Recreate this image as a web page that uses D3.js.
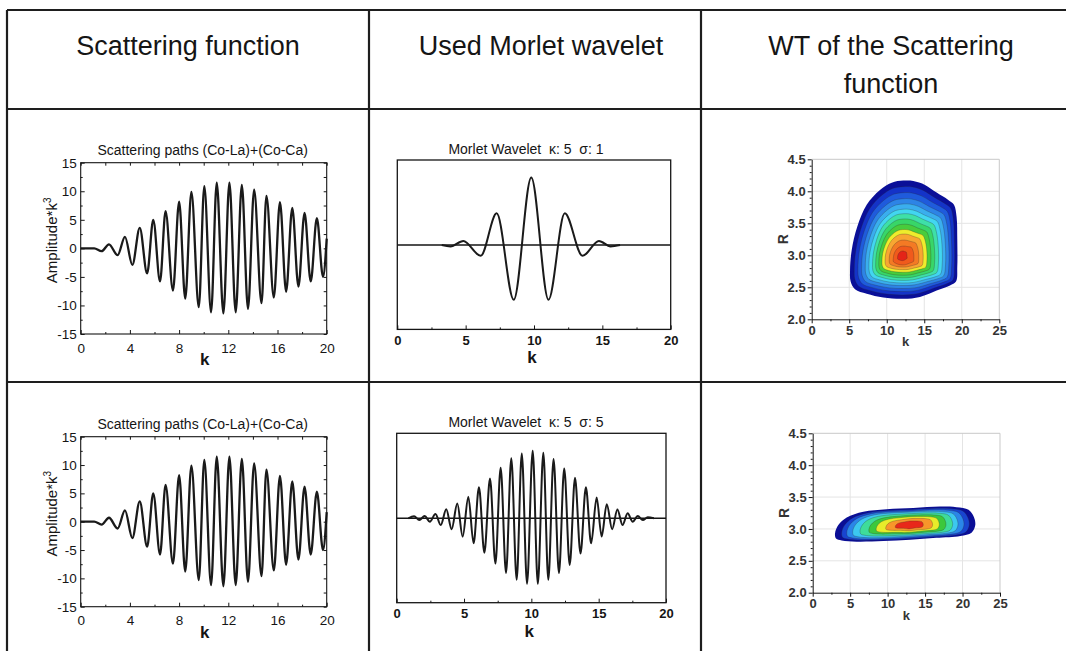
<!DOCTYPE html>
<html>
<head>
<meta charset="utf-8">
<script src="https://cdn.jsdelivr.net/npm/d3@7"></script>
<style>
  html, body { margin: 0; padding: 0; background: #fff; }
  svg { display: block; font-family: "Liberation Sans", Arial, sans-serif; }
</style>
</head>
<body>
<svg id="fig" width="1066" height="651"></svg>
<script>
// ---------- column headers ----------
const headerLines = [
  ["Scattering function"],
  ["Used Morlet wavelet"],
  ["WT of the Scattering", "function"]
];

// ---------- scattering function (Co-La)+(Co-Ca), turning points ----------
const scatK   = [0, 1.1, 1.7, 2.3, 3.0, 3.6, 4.2, 4.8, 5.4, 5.9, 6.45, 6.9, 7.5, 8.0, 8.5, 9.0, 9.6, 10.05, 10.6, 11.06, 11.6, 12.09, 12.6, 13.1, 13.6, 14.1, 14.7, 15.1, 15.7, 16.2, 16.7, 17.2, 17.7, 18.2, 18.7, 19.2, 19.7, 20.0];
const scatAmp = [0, 0, -0.5, 0.7, -1.2, 2.0, -2.9, 3.6, -4.4, 5.0, -5.8, 6.5, -7.4, 8.2, -8.8, 9.9, -10.3, 10.9, -11.2, 11.5, -11.4, 11.5, -11.2, 11.1, -10.6, 10.3, -9.6, 9.2, -8.6, 8.1, -7.6, 7.1, -6.7, 6.2, -5.8, 5.3, -5.0, 1.7];
const scatTitle = "Scattering paths (Co-La)+(Co-Ca)";
const scatXTicks = [0, 4, 8, 12, 16, 20];
const scatXMinor = [2, 6, 10, 14, 18];
const scatYTicks = [-15, -10, -5, 0, 5, 10, 15];
const scatYMinor = [-12.5, -7.5, -2.5, 2.5, 7.5, 12.5];

// ---------- Morlet wavelets, turning points ----------
const morlet1Title = "Morlet Wavelet  \u03ba: 5  \u03c3: 1";
const morlet1K   = [3.25, 3.9, 4.83, 6.1, 7.27, 8.52, 9.8, 11.06, 12.25, 13.55, 14.75, 15.6, 16.3];
const morlet1Amp = [0, -0.02, 0.06, -0.16, 0.47, -0.81, 1.0, -0.81, 0.47, -0.16, 0.06, -0.02, 0];

const morlet2Title = "Morlet Wavelet  \u03ba: 5  \u03c3: 5";
const morlet2K   = [0.87, 1.29, 1.68, 2.08, 2.46, 2.88, 3.27, 3.68, 4.08, 4.50, 4.90, 5.32, 5.71, 6.11, 6.51, 6.93, 7.33, 7.72, 8.12, 8.51, 8.91, 9.29, 9.68, 10.10, 10.48, 10.89, 11.26, 11.65, 12.05, 12.44, 12.85, 13.24, 13.65, 14.05, 14.44, 14.85, 15.22, 15.60, 16.00, 16.39, 16.77, 17.15, 17.53, 17.90, 18.28, 18.64, 19.1];
const morlet2Amp = [0, 0.03, -0.025, 0.034, -0.05, 0.064, -0.10, 0.133, -0.16, 0.22, -0.27, 0.32, -0.37, 0.46, -0.51, 0.59, -0.67, 0.75, -0.81, 0.89, -0.91, 0.96, -0.97, 1.0, -0.97, 0.97, -0.91, 0.88, -0.81, 0.74, -0.69, 0.60, -0.52, 0.46, -0.37, 0.31, -0.27, 0.21, -0.16, 0.13, -0.10, 0.074, -0.05, 0.034, -0.025, 0.015, 0];
const morletXTicks = [0, 5, 10, 15, 20];
const morletXMinor = [2.5, 7.5, 12.5, 17.5];

// ---------- wavelet transform maps ----------
const wtKTicks = [0, 5, 10, 15, 20, 25];
const wtKMinor = [2.5, 7.5, 12.5, 17.5, 22.5];
const wtRTicks = [2.0, 2.5, 3.0, 3.5, 4.0, 4.5];
const wtRMinor = d3.range(21, 45).filter(v => v % 5 !== 0).map(v => v / 10);

// sigma = 1: outer boundary, centre and level shrink factors (top/left/right/bottom)
const wt1OuterK = [12.21, 13.54, 15.10, 16.65, 18.2, 18.96, 19.31, 19.4, 19.4, 19.23, 18.43, 16.65, 14.43, 12.21, 9.55, 7.33, 5.77, 5.19, 5.11, 5.33, 6.08, 7.33, 9.10, 10.66];
const wt1OuterR = [4.167, 4.161, 4.10, 3.98, 3.865, 3.79, 3.60, 3.24, 2.82, 2.59, 2.53, 2.45, 2.35, 2.32, 2.34, 2.40, 2.47, 2.59, 2.77, 3.08, 3.45, 3.79, 4.02, 4.135];
const wt1Center = [12.08, 2.99];
const wt1Top    = [1, 0.92, 0.84, 0.76, 0.69, 0.62, 0.56, 0.49, 0.42, 0.35, 0.29, 0.21, 0.13, 0.065];
const wt1Left   = [1, 0.92, 0.85, 0.78, 0.71, 0.64, 0.57, 0.51, 0.45, 0.39, 0.33, 0.25, 0.17, 0.09];
const wt1Right  = [1, 0.95, 0.90, 0.85, 0.79, 0.73, 0.66, 0.59, 0.52, 0.45, 0.38, 0.30, 0.21, 0.085];
const wt1Bottom = [1, 0.91, 0.83, 0.76, 0.69, 0.63, 0.57, 0.51, 0.45, 0.38, 0.32, 0.26, 0.21, 0.11];
const wt1Colors = ["#0a0f98", "#1433c8", "#1f5bdc", "#2d84e6", "#3aaeee", "#42d6f0", "#3ee0a8", "#38d668", "#48cc3c", "#eeec2c", "#f8a632", "#f47a24", "#f05a1c", "#e42418"];

// sigma = 5
const wt2OuterK = [2.98, 3.42, 4.54, 6.76, 9.87, 13.43, 16.99, 19.2, 20.8, 21.5, 21.7, 21.2, 19.7, 16.5, 13.0, 9.43, 5.87, 3.87, 3.11];
const wt2OuterR = [2.93, 3.06, 3.18, 3.27, 3.31, 3.33, 3.35, 3.34, 3.30, 3.19, 3.06, 2.94, 2.89, 2.86, 2.83, 2.81, 2.80, 2.82, 2.85];
const wt2Center = [12.8, 3.06];
const wt2Top    = [1, 0.91, 0.82, 0.76, 0.67, 0.58, 0.49, 0.38, 0.24];
const wt2Left   = [1, 0.91, 0.84, 0.76, 0.66, 0.54, 0.44, 0.31, 0.18];
const wt2Right  = [1, 0.91, 0.83, 0.74, 0.66, 0.56, 0.46, 0.36, 0.22];
const wt2Bottom = [1, 0.91, 0.83, 0.74, 0.66, 0.57, 0.49, 0.38, 0.26];
const wt2Colors = ["#0a0e96", "#1844d0", "#2a86e8", "#3cc8f0", "#3edc9a", "#3cc83c", "#e8ec2a", "#f8962a", "#e8281a"];

// ======================================================================
const svg = d3.select("#fig");
const INK = "#151515";
const plain = d => String(d);   // hyphen-minus for negative tick labels

// ---------- table grid ----------
const table = svg.append("g").attr("stroke", "#1e1e1e").attr("stroke-width", 2.2);
[[7, 10, 1066, 10], [7, 109, 1066, 109], [7, 382, 1066, 382],
 [7, 10, 7, 651], [369, 10, 369, 651], [701, 10, 701, 651]]
  .forEach(([a, b, c, d]) => table.append("line").attr("x1", a).attr("y1", b).attr("x2", c).attr("y2", d));

const headerX = [188, 541, 891];
headerLines.forEach((lines, i) => {
  lines.forEach((t, j) => {
    svg.append("text")
      .attr("x", headerX[i]).attr("y", 55 + j * 38)
      .attr("text-anchor", "middle")
      .attr("font-size", 27).attr("fill", INK)
      .text(t);
  });
});

function styleAxis(sel, size, weight, color) {
  sel.selectAll("path.domain").attr("stroke", INK);
  sel.selectAll(".tick line").attr("stroke", INK);
  sel.selectAll("text").attr("font-size", size).attr("font-weight", weight)
     .attr("fill", color).attr("font-family", "Liberation Sans, Arial, sans-serif");
}

// ---------- scattering function panel ----------
function drawScatter(x0, x1, y0, y1, titleY) {
  const g = svg.append("g");
  const x = d3.scaleLinear().domain([0, 20]).range([x0, x1]);
  const y = d3.scaleLinear().domain([-15, 15]).range([y1, y0]);

  g.append("text").attr("x", (x0 + x1) / 2 - 1).attr("y", titleY)
    .attr("text-anchor", "middle").attr("font-size", 14).attr("fill", INK).text(scatTitle);

  const line = d3.line().x((d, i) => x(scatK[i])).y((d, i) => y(scatAmp[i])).curve(d3.curveMonotoneX);
  g.append("path").attr("d", line(scatK)).attr("fill", "none")
    .attr("stroke", "#1a1a1a").attr("stroke-width", 2.3).attr("stroke-linejoin", "round");

  g.append("rect").attr("x", x0).attr("y", y0).attr("width", x1 - x0).attr("height", y1 - y0)
    .attr("fill", "none").attr("stroke", INK).attr("stroke-width", 1.1);

  const bx = g.append("g").attr("transform", `translate(0,${y1})`)
    .call(d3.axisBottom(x).tickValues(scatXTicks).tickSizeInner(-4).tickSizeOuter(0).tickPadding(9).tickFormat(plain));
  styleAxis(bx, 13.5, "normal", INK);
  bx.select(".domain").remove();
  g.append("g").attr("transform", `translate(0,${y1})`)
    .call(d3.axisBottom(x).tickValues(scatXMinor).tickSizeInner(-2).tickSizeOuter(0).tickFormat(""))
    .call(s => { s.select(".domain").remove(); s.selectAll("line").attr("stroke", INK); });
  g.append("g").attr("transform", `translate(0,${y0})`)
    .call(d3.axisTop(x).tickValues(scatXTicks.concat(scatXMinor)).tickSizeInner(-3).tickSizeOuter(0).tickFormat(""))
    .call(s => { s.select(".domain").remove(); s.selectAll("line").attr("stroke", INK); });

  const ly = g.append("g").attr("transform", `translate(${x0},0)`)
    .call(d3.axisLeft(y).tickValues(scatYTicks).tickSizeInner(-4).tickSizeOuter(0).tickPadding(4).tickFormat(plain));
  styleAxis(ly, 13.5, "normal", INK);
  ly.select(".domain").remove();
  g.append("g").attr("transform", `translate(${x0},0)`)
    .call(d3.axisLeft(y).tickValues(scatYMinor).tickSizeInner(-2).tickSizeOuter(0).tickFormat(""))
    .call(s => { s.select(".domain").remove(); s.selectAll("line").attr("stroke", INK); });
  g.append("g").attr("transform", `translate(${x1},0)`)
    .call(d3.axisRight(y).tickValues(scatYTicks.concat(scatYMinor)).tickSizeInner(-3).tickSizeOuter(0).tickFormat(""))
    .call(s => { s.select(".domain").remove(); s.selectAll("line").attr("stroke", INK); });

  g.append("text").attr("x", (x0 + x1) / 2 + 1).attr("y", y1 + 31)
    .attr("text-anchor", "middle").attr("font-size", 17).attr("font-weight", "bold").attr("fill", INK).text("k");

  const yl = g.append("text")
    .attr("transform", `translate(${x0 - 24},${(y0 + y1) / 2 - 8}) rotate(-90)`)
    .attr("text-anchor", "middle").attr("font-size", 15).attr("fill", INK);
  yl.append("tspan").text("Amplitude*k");
  yl.append("tspan").attr("font-size", 10).attr("dy", -6).text("3");
}

// ---------- Morlet wavelet panel ----------
function drawMorlet(x0, x1, y0, y1, title, ks, amps) {
  const g = svg.append("g");
  const x = d3.scaleLinear().domain([0, 20]).range([x0, x1]);
  const y = d3.scaleLinear().domain([-1.25, 1.26]).range([y1, y0]);

  g.append("text").attr("x", 526).attr("y", y0 - 6)
    .attr("text-anchor", "middle").attr("font-size", 14).attr("fill", INK)
    .attr("xml:space", "preserve").style("white-space", "pre").text(title);

  g.append("line").attr("x1", x0).attr("x2", x1).attr("y1", y(0)).attr("y2", y(0))
    .attr("stroke", INK).attr("stroke-width", 1.5);

  const line = d3.line().x((d, i) => x(ks[i])).y((d, i) => y(amps[i])).curve(d3.curveMonotoneX);
  g.append("path").attr("d", line(ks)).attr("fill", "none")
    .attr("stroke", "#1a1a1a").attr("stroke-width", 2.0).attr("stroke-linejoin", "round");

  g.append("rect").attr("x", x0).attr("y", y0).attr("width", x1 - x0).attr("height", y1 - y0)
    .attr("fill", "none").attr("stroke", INK).attr("stroke-width", 1.3);

  const bx = g.append("g").attr("transform", `translate(0,${y1})`)
    .call(d3.axisBottom(x).tickValues(morletXTicks).tickSizeInner(-4).tickSizeOuter(0).tickPadding(6));
  styleAxis(bx, 13, "bold", INK);
  bx.select(".domain").remove();
  g.append("g").attr("transform", `translate(0,${y1})`)
    .call(d3.axisBottom(x).tickValues(morletXMinor).tickSizeInner(-2).tickSizeOuter(0).tickFormat(""))
    .call(s => { s.select(".domain").remove(); s.selectAll("line").attr("stroke", INK); });

  g.append("text").attr("x", (x0 + x1) / 2 - 2).attr("y", y1 + 34)
    .attr("text-anchor", "middle").attr("font-size", 17).attr("font-weight", "bold").attr("fill", INK).text("k");
}

// ---------- wavelet transform map ----------
function drawWT(x0, x1, y0, y1, outerK, outerR, center, top, left, right, bottom, colors) {
  const g = svg.append("g");
  const x = d3.scaleLinear().domain([0, 25]).range([x0, x1]);
  const y = d3.scaleLinear().domain([2, 4.5]).range([y1, y0]);

  const grid = g.append("g").attr("stroke", "#e4e4e4").attr("stroke-width", 1);
  wtKTicks.slice(1, -1).forEach(k => grid.append("line").attr("x1", x(k)).attr("x2", x(k)).attr("y1", y0).attr("y2", y1));
  wtRTicks.slice(1, -1).forEach(r => grid.append("line").attr("x1", x0).attr("x2", x1).attr("y1", y(r)).attr("y2", y(r)));
  g.append("path").attr("d", `M${x0},${y0}H${x1}V${y1}`).attr("fill", "none").attr("stroke", "#c9c9c9");

  const cx = x(center[0]), cy = y(center[1]);
  const verts = outerK.map((k, j) => [x(k) - cx, y(outerR[j]) - cy]);
  const shape = d3.line().curve(d3.curveCatmullRomClosed.alpha(0.5));
  colors.forEach((c, i) => {
    const pts = verts.map(([vx, vy]) => {
      const d2 = vx * vx + vy * vy || 1;
      const wx = vx * vx / d2, wy = vy * vy / d2;
      const sx = vx < 0 ? left[i] : right[i];
      const sy = vy < 0 ? top[i] : bottom[i];
      const s = wx * sx + wy * sy;
      return [cx + s * vx, cy + s * vy];
    });
    g.append("path").attr("d", shape(pts)).attr("fill", c)
      .attr("stroke", i === 0 ? "none" : "#2b2b2b").attr("stroke-opacity", 0.45).attr("stroke-width", 0.6);
  });

  const la = g.append("g").attr("transform", `translate(${x0},0)`)
    .call(d3.axisLeft(y).tickValues(wtRTicks).tickFormat(d3.format(".1f")).tickSizeInner(4).tickSizeOuter(0).tickPadding(2));
  styleAxis(la, 13, "bold", "#333");
  g.append("g").attr("transform", `translate(${x0},0)`)
    .call(d3.axisLeft(y).tickValues(wtRMinor).tickSizeInner(2).tickSizeOuter(0).tickFormat(""))
    .call(s => { s.select(".domain").remove(); s.selectAll("line").attr("stroke", INK); });

  const ba = g.append("g").attr("transform", `translate(0,${y1})`)
    .call(d3.axisBottom(x).tickValues(wtKTicks).tickSizeInner(4).tickSizeOuter(0).tickPadding(2));
  styleAxis(ba, 13, "bold", "#333");
  g.append("g").attr("transform", `translate(0,${y1})`)
    .call(d3.axisBottom(x).tickValues(wtKMinor).tickSizeInner(2).tickSizeOuter(0).tickFormat(""))
    .call(s => { s.select(".domain").remove(); s.selectAll("line").attr("stroke", INK); });

  g.append("text").attr("x", (x0 + x1) / 2).attr("y", y1 + 27)
    .attr("text-anchor", "middle").attr("font-size", 13).attr("font-weight", "bold").attr("fill", "#333").text("k");
  g.append("text").attr("transform", `translate(${x0 - 29},${(y0 + y1) / 2}) rotate(-90)`)
    .attr("text-anchor", "middle").attr("dy", "0.35em")
    .attr("font-size", 14).attr("font-weight", "bold").attr("fill", "#333").text("R");
}

// ---------- layout ----------
drawScatter(80.7, 326.7, 162.7, 334, 155);
drawScatter(80.7, 326.7, 436.7, 606.7, 429);

drawMorlet(397.3, 670.7, 160, 329.4, morlet1Title, morlet1K, morlet1Amp);
drawMorlet(396.7, 666, 433.3, 602.7, morlet2Title, morlet2K, morlet2Amp);

drawWT(811.7, 999.3, 159.3, 319.3, wt1OuterK, wt1OuterR, wt1Center, wt1Top, wt1Left, wt1Right, wt1Bottom, wt1Colors);
drawWT(812.7, 1000, 433.3, 592.7, wt2OuterK, wt2OuterR, wt2Center, wt2Top, wt2Left, wt2Right, wt2Bottom, wt2Colors);
</script>
</body>
</html>
